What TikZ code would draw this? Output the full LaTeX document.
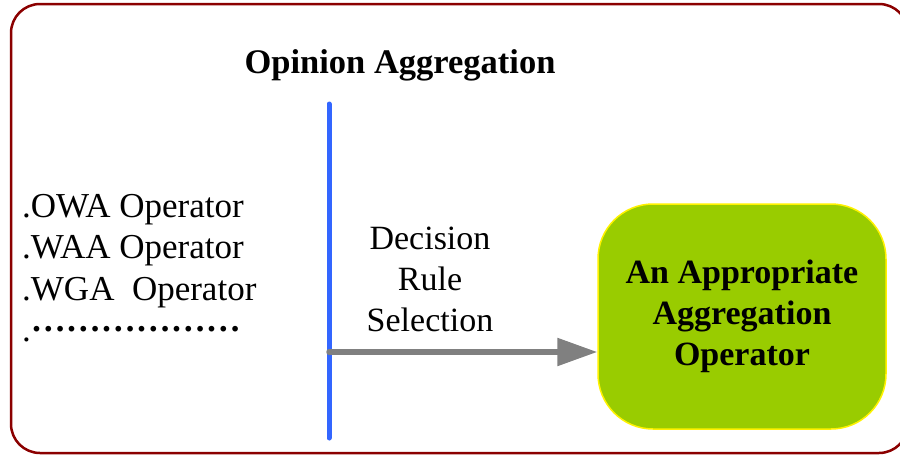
\documentclass[tikz,border=0pt]{standalone}
\usepackage{fontspec}
\setmainfont{Liberation Serif}
\usetikzlibrary{arrows.meta}
\definecolor{framered}{RGB}{139,0,0}
\definecolor{lineblue}{RGB}{51,102,255}
\definecolor{boxgreen}{RGB}{153,204,0}
\definecolor{arrowgray}{RGB}{128,128,128}
\begin{document}
\begin{tikzpicture}[x=1pt, y=-1pt,
    txt/.style={inner sep=0pt, font=\fontsize{34}{41}\selectfont},
    result/.style={draw=yellow, line width=1.5pt, fill=boxgreen, rounded corners=55pt,
        minimum width=288pt, minimum height=225pt, align=center, inner sep=0pt,
        font=\fontsize{34}{41}\selectfont\bfseries}]
    \useasboundingbox (0,0) rectangle (900,455);

    % The whole frame
    \draw[framered, line width=2.5pt, rounded corners=29pt] (11,4) rectangle (908,453);
    \node[txt, font=\fontsize{34.5}{41}\selectfont\bfseries, anchor=base] (title) at (400,73) {Opinion Aggregation};

    % Operators
    \node[txt, font=\fontsize{35}{41.5}\selectfont, align=left, anchor=north west] (ops) at (22,194)
        {.OWA Operator\\.WAA Operator\\.WGA\ \ Operator\\.\raisebox{0.3em}{\bfseries ………………}};

    % Divider
    \coordinate (top) at (329,104);
    \coordinate (bot) at (329,438);
    \coordinate (sel) at (329,352);
    \draw[lineblue, line width=5pt, line cap=round] (top) -- (bot);

    % Selection
    \node[txt, align=center] (rule) at (430,279) {Decision\\Rule\\Selection};
    \node[result] (op) at (742,316.5) {An Appropriate\\Aggregation\\Operator};
    \draw[arrowgray, line width=5.5pt, line cap=round, -{Triangle[length=40pt, width=27pt]}] (sel) -- (sel -| op.west);
\end{tikzpicture}
\end{document}
